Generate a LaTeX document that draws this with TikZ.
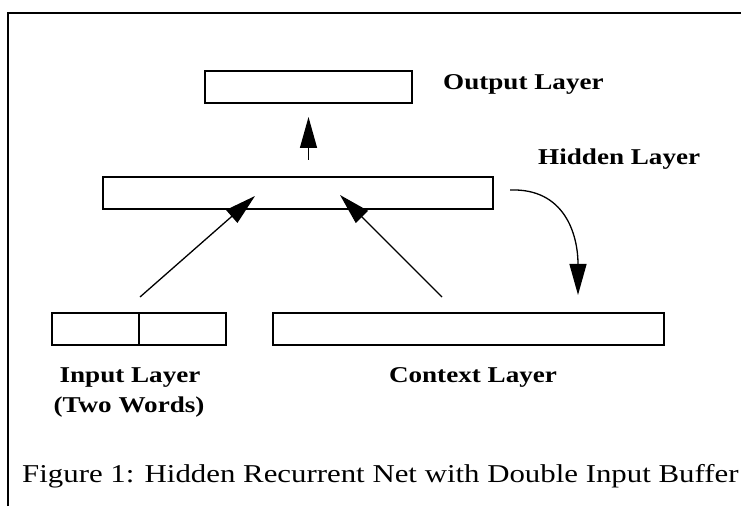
\documentclass[tikz,border=0pt]{standalone}
\usepackage{fontspec}
\setmainfont[FakeStretch=1.2]{Liberation Serif}
\usetikzlibrary{arrows.meta,calc}
\tikzset{
  layer/.style={draw, line width=1.3pt, minimum height=32pt, inner sep=0pt, outer sep=0pt},
  lbl/.style={font=\fontsize{22.6}{26}\selectfont\bfseries, inner sep=0pt},
  flow/.style={line width=1.3pt, -{Triangle[length=31pt,width=17pt]}},
}
\begin{document}
\begin{tikzpicture}[x=1pt,y=1pt]
\useasboundingbox (0,0) rectangle (741,506);
% open frame: left side and top only
\draw[line width=2.2pt] (8,0) -- (8,493) -- (741,493);

% layers
\node[layer, minimum width=207pt] (output) at (308.5,419) {};
\node[layer, minimum width=390pt] (hidden) at (298,313) {};
\node[layer, minimum width=87pt] (inA) at (95.5,177) {};
\node[layer, minimum width=87pt] (inB) at (182.5,177) {};
\node[layer, minimum width=391pt] (context) at (468.5,177) {};

% labels
\node[lbl, anchor=base west] (outlbl) at (443,416) {Output Layer};
\node[lbl, anchor=base west] (hidlbl) at (538,341) {Hidden Layer};
\node[lbl, anchor=base] (inlbl) at (130,123) {Input Layer};
\node[lbl, anchor=base] (inlbltwo) at (129,94) {(Two Words)};
\node[lbl, anchor=base] (ctxlbl) at (473,123) {Context Layer};
\node[font=\fontsize{25.7}{29}\selectfont, inner sep=0pt, anchor=base west] (caption) at (22,24)
  {Figure 1: Hidden Recurrent Net with Double Input Buffer};

% connection ends
\coordinate (upTail) at ($(hidden.north -| output.south)+(0,17)$);
\coordinate (upTip) at ($(output.south)+(0,-14)$);
\coordinate (aTail) at ($(inA.north east)+(1,16)$);
\coordinate (aTip) at ($(hidden.south west)+(152,13)$);
\coordinate (bTail) at ($(context.north west)+(169,16)$);
\coordinate (bTip) at ($(hidden.south west)+(237,14)$);
\coordinate (rTail) at ($(hidden.east)+(17,3)$);
\coordinate (rTip) at ($(context.north west)+(305,18)$);

% connectors
\draw[flow] (upTail) -- (upTip);
\draw[flow] (aTail) -- (aTip);
\draw[flow] (bTail) -- (bTip);
\draw[flow] (rTail) .. controls ($(rTail)+(55,2)$) and ($(rTip)+(0,60)$) .. (rTip);
\end{tikzpicture}
\end{document}
